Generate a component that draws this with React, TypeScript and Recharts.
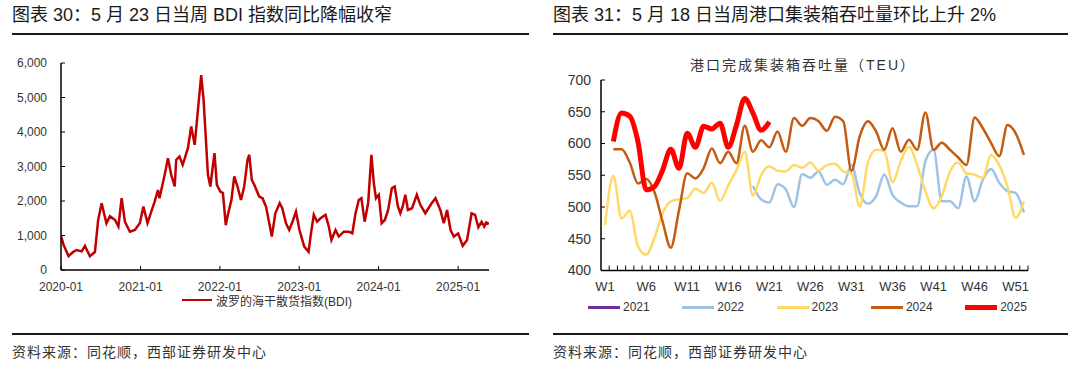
import React from "react";
import { LineChart, Line, XAxis, YAxis } from "recharts";

// ---- BDI (left) ----
const bdiDates = [
  "2020-01-02", "2020-01-13", "2020-02-05", "2020-02-25", "2020-03-13", "2020-04-05", "2020-04-20",
  "2020-05-13", "2020-06-05", "2020-06-20", "2020-07-06", "2020-07-28", "2020-08-13", "2020-09-06",
  "2020-09-21", "2020-10-06", "2020-10-21", "2020-11-13", "2020-12-06", "2020-12-29",
  "2021-01-14", "2021-02-02", "2021-02-22", "2021-03-07", "2021-03-22", "2021-03-29", "2021-04-22",
  "2021-05-07", "2021-05-22", "2021-06-07", "2021-06-14", "2021-06-29", "2021-07-14", "2021-08-07",
  "2021-08-22", "2021-09-07", "2021-09-22", "2021-10-07", "2021-10-18", "2021-11-07", "2021-11-18",
  "2021-12-07", "2021-12-18",
  "2022-01-03", "2022-01-15", "2022-01-28", "2022-02-08", "2022-02-23", "2022-03-08", "2022-03-23",
  "2022-04-08", "2022-04-23", "2022-05-08", "2022-05-16", "2022-05-28", "2022-06-08", "2022-07-01",
  "2022-07-16", "2022-08-01", "2022-08-16", "2022-08-28", "2022-09-13", "2022-10-03", "2022-10-15",
  "2022-11-01", "2022-11-16", "2022-12-01", "2022-12-17",
  "2023-01-02", "2023-01-24", "2023-02-13", "2023-02-24", "2023-03-09", "2023-03-24", "2023-04-09",
  "2023-05-02", "2023-05-17", "2023-05-29", "2023-06-17", "2023-07-02", "2023-07-25", "2023-08-17",
  "2023-09-02", "2023-09-17", "2023-10-02", "2023-10-14", "2023-10-29", "2023-11-14", "2023-11-29",
  "2023-12-10", "2023-12-20",
  "2024-01-02", "2024-01-15", "2024-01-30", "2024-02-14", "2024-03-02", "2024-03-15", "2024-03-30",
  "2024-04-10", "2024-04-21", "2024-05-03", "2024-05-15", "2024-06-03", "2024-06-25", "2024-07-11",
  "2024-08-03", "2024-09-01", "2024-09-19", "2024-10-11", "2024-10-27", "2024-11-11", "2024-11-27",
  "2024-12-12",
  "2025-01-01", "2025-01-22", "2025-02-11", "2025-03-04", "2025-03-20", "2025-04-04", "2025-04-19",
  "2025-05-01", "2025-05-10", "2025-05-23",
];
const bdiValues = [
  970, 726, 400, 520, 580, 540, 700,
  400, 520, 1450, 1935, 1355, 1560, 1450,
  1260, 2080, 1400, 1110, 1160, 1360,
  1840, 1360, 1740, 1980, 2320, 2080, 2760,
  3240, 2760, 2420, 3190, 3290, 3050, 3530,
  4160, 3630, 4640, 5650, 4930, 2760, 2420,
  3390, 2470,
  2270, 2230, 1300, 1640, 2030, 2710, 2420,
  2030, 2420, 3190, 3340, 2610, 2470, 2130,
  2080, 1840, 1360, 970, 1645, 1935, 1790,
  1355, 1160, 1400, 1690,
  1160, 680, 530, 1060, 1600, 1400, 1500,
  1600, 1260, 870, 1160, 970, 1110, 1110,
  1060, 1645, 2030, 2080, 1400, 1935, 3340,
  2520, 2080,
  2180, 1355, 1450, 1740, 2370, 2420, 1840,
  1645, 1840, 2180, 1740, 1790, 2180, 1890,
  1645, 1935, 2080, 1740, 1355, 1740, 1160,
  970,
  1060, 700, 870, 1645, 1600, 1240, 1400,
  1260, 1380, 1340,
];
const bdiTickLabels = ["2020-01", "2021-01", "2022-01", "2023-01", "2024-01", "2025-01"];
const bdiYTicks = [0, 1000, 2000, 3000, 4000, 5000, 6000];

// ---- Port container throughput (right) ----
const weekLabels = Array.from({ length: 52 }, (_, i) => `W${i + 1}`);
const teuYTicks = [400, 450, 500, 550, 600, 650, 700];
const seriesYears = ["2021", "2022", "2023", "2024", "2025"];
const seriesColors = ["#7030A0", "#9DC3E6", "#FFD966", "#C55A11", "#FF0000"];
const n = null;
const teu2021: (number | null)[] = [];
const teu2022 = [
  n, n, n, n, n, n, n, n, n, n, n, n, n, n, n, n, n, n,
  533, 512, 507, 536, 528, 500, 552, 546, 556, 535, 543, 536, 566, 522, 505, 517, 551, 519,
  507, 501, 501, 572, 590, 509, 509, 498, 548, 509, 543, 560, 538, 525, 522, 491,
];
const teu2023 = [
  472, 549, 482, 494, 438, 425, 451, 490, 509, 512, 514, 529, 522, 538, 510, 534, 558, 587,
  518, 550, 564, 557, 556, 566, 562, 570, 557, 566, 568, 556, 553, 501, 570, 590, 588, 539,
  572, 595, 566, 525, 498, 517, 556, 570, 553, 551, 546, 582, 566, 532, 483, 509,
];
const teu2024 = [
  n, 591, 591, 570, 537, 544, 524, 477, 436, 495, 553, 545, 561, 592, 569, 587, 569, 628,
  587, 605, 594, 619, 587, 640, 628, 640, 635, 620, 642, 635, 557, 611, 635, 619, 590, 624,
  587, 606, 590, 649, 590, 601, 590, 578, 566, 641, 624, 601, 580, 629, 616, 582,
];
const teu2025 = [
  n, 603, 648, 643, 603, 527, 532, 558, 591, 561, 616, 594, 627, 623, 632, 594, 629, 671,
  648, 621, 634,
];
const teuSeries = [teu2021, teu2022, teu2023, teu2024, teu2025];

const bdiData = bdiDates.map((d, i) => ({ t: Date.parse(d), v: bdiValues[i] }));
const teuData = weekLabels.map((w, i) => {
  const row: Record<string, string | number | null> = { week: w };
  seriesYears.forEach((y, k) => {
    const v = teuSeries[k][i];
    row[y] = v === undefined ? null : v;
  });
  return row;
});

const SANS = '"Liberation Sans", Arial, "Noto Sans CJK SC", sans-serif';
const TEXT = "#333";

const R_W = 500;
const R_MARGIN = { top: 80, right: 12, left: 0, bottom: 9.5 };
const R_YW = 61;
const BAND = (R_W - R_MARGIN.left - R_MARGIN.right - R_YW) / weekLabels.length;

function WeekTick(props: any) {
  const { x, y, index, payload } = props;
  return (
    <g>
      <line x1={x + BAND / 2} x2={x + BAND / 2} y1={y} y2={y - 5} stroke="#000" strokeWidth={1} />
      {index % 5 === 0 && (
        <text x={x} y={y + 20} textAnchor="middle" fontSize={13} fill={TEXT} fontFamily={SANS}>
          {payload.value}
        </text>
      )}
    </g>
  );
}

function Rule({ left, top, width }: { left: number; top: number; width: number }) {
  return (
    <div style={{ position: "absolute", left, top, width, height: 2, background: "#1a1a1a" }} />
  );
}

export default function App() {
  return (
    <div
      style={{
        position: "relative",
        width: 1080,
        height: 365,
        background: "#fff",
        overflow: "hidden",
        fontFamily: SANS,
        color: "#1a1a1a",
      }}
    >
      <style>{"body{margin:0}"}</style>

      {/* left panel */}
      <div style={{ position: "absolute", left: 12, top: 4, fontSize: 18, lineHeight: "22px", whiteSpace: "nowrap" }}>
        图表 30：5 月 23 日当周 BDI 指数同比降幅收窄
      </div>
      <Rule left={12} top={33} width={517} />
      <div style={{ position: "absolute", left: 0, top: 0 }}>
        <LineChart width={500} height={300} data={bdiData} margin={{ top: 63, right: 11, left: 0, bottom: 10 }}>
          <XAxis
            dataKey="t"
            type="number"
            domain={[Date.parse("2020-01-01"), Date.parse("2025-05-23")]}
            ticks={bdiTickLabels.map((s) => Date.parse(s + "-01"))}
            tickFormatter={(t: number) => new Date(t).toISOString().slice(0, 7)}
            height={20}
            tickSize={-4}
            tickMargin={16}
            axisLine={{ stroke: "#000", strokeWidth: 1.5 }}
            tickLine={{ stroke: "#000" }}
            tick={{ fontSize: 12, fill: TEXT, fontFamily: SANS }}
            allowDataOverflow
          />
          <YAxis
            domain={[0, 6000]}
            ticks={bdiYTicks}
            tickFormatter={(v: number) => v.toLocaleString("en-US")}
            width={61}
            tickSize={-4}
            tickMargin={18}
            axisLine={{ stroke: "#000", strokeWidth: 1.5 }}
            tickLine={{ stroke: "#000" }}
            tick={{ fontSize: 12, fill: TEXT, fontFamily: SANS }}
          />
          <Line
            dataKey="v"
            type="linear"
            stroke="#C00000"
            strokeWidth={2.5}
            dot={false}
            activeDot={false}
            isAnimationActive={false}
          />
        </LineChart>
      </div>
      <div style={{ position: "absolute", left: 182, top: 292, height: 16, display: "flex", alignItems: "center", fontSize: 12, color: TEXT }}>
        <span style={{ display: "inline-block", width: 30, height: 2, background: "#C00000", marginRight: 4 }} />
        <span>波罗的海干散货指数(BDI)</span>
      </div>
      <Rule left={12} top={333} width={517} />
      <div style={{ position: "absolute", left: 12, top: 343, fontSize: 14, letterSpacing: 1, lineHeight: "18px", color: TEXT }}>
        资料来源：同花顺，西部证券研发中心
      </div>

      {/* right panel */}
      <div style={{ position: "absolute", left: 553, top: 4, fontSize: 18, lineHeight: "22px", whiteSpace: "nowrap" }}>
        图表 31：5 月 18 日当周港口集装箱吞吐量环比上升 2%
      </div>
      <Rule left={553} top={33} width={515} />
      <div style={{ position: "absolute", left: 540, top: 0 }}>
        <LineChart width={R_W} height={300} data={teuData} margin={R_MARGIN}>
          <XAxis
            dataKey="week"
            scale="band"
            interval={0}
            height={20}
            tickSize={0}
            tickMargin={0}
            axisLine={{ stroke: "#000", strokeWidth: 1.5 }}
            tickLine={false}
            tick={<WeekTick />}
          />
          <YAxis
            domain={[400, 700]}
            ticks={teuYTicks}
            width={R_YW}
            tickSize={-4}
            tickMargin={14}
            axisLine={{ stroke: "#000", strokeWidth: 1.5 }}
            tickLine={{ stroke: "#000" }}
            tick={{ fontSize: 14, fill: TEXT, fontFamily: SANS }}
          />
          {seriesYears.map((y, k) => (
            <Line
              key={y}
              dataKey={y}
              type="monotone"
              stroke={seriesColors[k]}
              strokeWidth={y === "2025" ? 5 : 2.5}
              dot={false}
              activeDot={false}
              isAnimationActive={false}
            />
          ))}
        </LineChart>
      </div>
      <div
        style={{
          position: "absolute",
          left: 683,
          top: 56,
          width: 240,
          textAlign: "center",
          fontSize: 14,
          letterSpacing: 2,
          lineHeight: "18px",
          color: TEXT,
          whiteSpace: "nowrap",
        }}
      >
        港口完成集装箱吞吐量（TEU）
      </div>
      <div style={{ position: "absolute", left: 588, top: 299, height: 16, display: "flex", fontSize: 12, color: TEXT }}>
        {seriesYears.map((y, k) => (
          <div key={y} style={{ width: 94.3, display: "flex", alignItems: "center" }}>
            <span
              style={{
                display: "inline-block",
                width: 32,
                height: y === "2025" ? 5 : 3,
                background: seriesColors[k],
                marginRight: 3,
              }}
            />
            <span>{y}</span>
          </div>
        ))}
      </div>
      <Rule left={553} top={333} width={515} />
      <div style={{ position: "absolute", left: 553, top: 343, fontSize: 14, letterSpacing: 1, lineHeight: "18px", color: TEXT }}>
        资料来源：同花顺，西部证券研发中心
      </div>
    </div>
  );
}
